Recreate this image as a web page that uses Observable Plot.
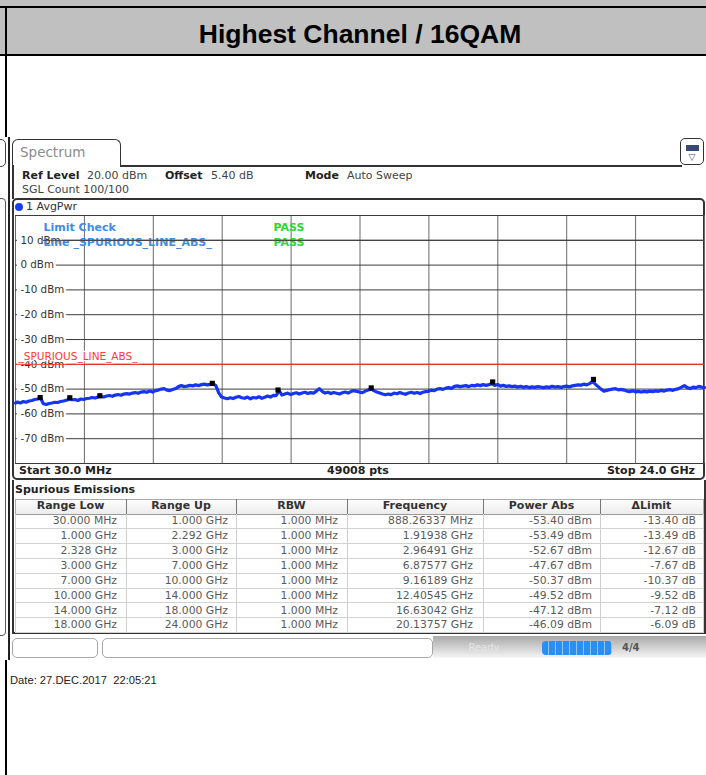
<!DOCTYPE html>
<html><head><meta charset="utf-8">
<script src="https://cdn.jsdelivr.net/npm/d3@7"></script>
<script src="https://cdn.jsdelivr.net/npm/@observablehq/plot@0.6"></script>
<style>
body{margin:0;background:#fff;}
#page{position:relative;width:706px;height:775px;overflow:hidden;background:#fff;font-family:"DejaVu Sans",sans-serif;}
</style></head><body><div id="page"></div>
<script>
// ---------------- data ----------------
const titleText = "Highest Channel / 16QAM";
const limitName = "_SPURIOUS_LINE_ABS_";
const limitDbm = -40;
const xGridGHz = [0.03, 2.427, 4.824, 7.221, 9.618, 12.015, 14.412, 16.809, 19.206, 21.603, 24.0];
const yGridDbm = [20, 10, 0, -10, -20, -30, -40, -50, -60, -70, -80];
const yTickLabels = [10, 0, -10, -20, -30, -40, -50, -60, -70];

const traceGHz = [0.03,
 0.1,0.2,0.3,0.4,0.5,0.6,0.7,0.8,0.9,1.0,
 1.1,1.2,1.3,1.4,1.5,1.6,1.7,1.8,1.9,2.0,
 2.1,2.2,2.3,2.4,2.5,2.6,2.7,2.8,2.9,3.0,
 3.1,3.2,3.3,3.4,3.5,3.6,3.7,3.8,3.9,4.0,
 4.1,4.2,4.3,4.4,4.5,4.6,4.7,4.8,4.9,5.0,
 5.1,5.2,5.3,5.4,5.5,5.6,5.7,5.8,5.9,6.0,
 6.1,6.2,6.3,6.4,6.5,6.6,6.7,6.8,6.9,7.0,
 7.1,7.2,7.3,7.4,7.5,7.6,7.7,7.8,7.9,8.0,
 8.1,8.2,8.3,8.4,8.5,8.6,8.7,8.8,8.9,9.0,
 9.1,9.2,9.3,9.4,9.5,9.6,9.7,9.8,9.9,10.0,
 10.1,10.2,10.3,10.4,10.5,10.6,10.7,10.8,10.9,11.0,
 11.1,11.2,11.3,11.4,11.5,11.6,11.7,11.8,11.9,12.0,
 12.1,12.2,12.3,12.4,12.5,12.6,12.7,12.8,12.9,13.0,
 13.1,13.2,13.3,13.4,13.5,13.6,13.7,13.8,13.9,14.0,
 14.1,14.2,14.3,14.4,14.5,14.6,14.7,14.8,14.9,15.0,
 15.1,15.2,15.3,15.4,15.5,15.6,15.7,15.8,15.9,16.0,
 16.1,16.2,16.3,16.4,16.5,16.6,16.7,16.8,16.9,17.0,
 17.1,17.2,17.3,17.4,17.5,17.6,17.7,17.8,17.9,18.0,
 18.1,18.2,18.3,18.4,18.5,18.6,18.7,18.8,18.9,19.0,
 19.1,19.2,19.3,19.4,19.5,19.6,19.7,19.8,19.9,20.0,
 20.1,20.2,20.3,20.4,20.5,20.6,20.7,20.8,20.9,21.0,
 21.1,21.2,21.3,21.4,21.5,21.6,21.7,21.8,21.9,22.0,
 22.1,22.2,22.3,22.4,22.5,22.6,22.7,22.8,22.9,23.0,
 23.1,23.2,23.3,23.4,23.5,23.6,23.7,23.8,23.9,24.0];

const traceDbm = [-55.6,
 -55.2,-55.6,-55.0,-55.3,-54.8,-54.6,-54.2,-54.0,-53.6,-55.9,
 -56.2,-55.8,-55.6,-55.3,-55.4,-55.0,-54.8,-54.5,-54.0,-54.3,
 -54.2,-54.6,-54.0,-54.2,-53.8,-53.7,-53.4,-53.6,-53.2,-53.0,
 -53.2,-52.8,-52.6,-52.9,-52.4,-52.2,-52.5,-52.0,-51.8,-52.0,
 -51.6,-51.4,-51.7,-51.2,-51.0,-51.3,-50.8,-51.2,-50.6,-50.4,
 -50.0,-49.8,-50.4,-50.6,-50.2,-49.8,-49.0,-48.6,-49.0,-48.8,
 -48.5,-48.7,-48.3,-48.6,-48.2,-48.0,-48.3,-48.1,-47.9,-48.6,
 -51.5,-53.2,-53.6,-53.9,-53.5,-53.8,-53.3,-53.0,-53.5,-53.7,
 -53.2,-53.9,-53.4,-53.6,-53.1,-53.7,-53.3,-52.8,-53.2,-52.5,
 -52.6,-50.6,-52.4,-52.0,-51.6,-52.2,-51.8,-51.5,-52.0,-51.6,
 -51.3,-51.8,-51.4,-51.6,-50.8,-49.8,-50.9,-51.6,-51.3,-51.8,
 -51.4,-51.7,-52.0,-51.5,-51.2,-51.6,-51.0,-50.6,-50.9,-51.2,
 -51.4,-50.8,-50.4,-50.0,-50.6,-51.2,-51.6,-52.0,-52.3,-52.0,
 -52.2,-51.6,-51.9,-51.4,-51.8,-52.1,-51.6,-51.3,-51.7,-51.4,
 -51.8,-51.3,-51.0,-50.9,-50.4,-50.6,-50.0,-49.8,-50.1,-49.6,
 -49.4,-49.7,-48.9,-48.7,-49.0,-48.8,-48.6,-49.0,-48.5,-48.7,
 -48.3,-48.6,-48.2,-48.5,-48.2,-47.8,-48.5,-48.1,-48.8,-48.5,
 -48.9,-48.7,-49.0,-48.8,-49.2,-48.9,-49.3,-49.0,-49.4,-49.1,
 -49.3,-49.0,-49.2,-49.4,-49.1,-49.3,-48.9,-49.2,-49.0,-49.3,
 -49.0,-48.8,-49.1,-48.7,-48.5,-48.3,-48.4,-48.0,-48.3,-47.8,
 -47.0,-48.0,-49.0,-50.0,-50.8,-50.5,-50.2,-50.0,-49.8,-50.3,
 -50.1,-50.4,-50.8,-51.0,-50.7,-51.1,-50.9,-51.2,-50.9,-51.1,
 -50.8,-51.0,-50.7,-50.9,-50.5,-50.8,-50.4,-50.2,-50.5,-50.1,
 -49.8,-49.2,-48.6,-49.4,-49.8,-49.2,-49.4,-48.9,-49.2,-49.4];

const tableHeaders = ["Range Low", "Range Up", "RBW", "Frequency", "Power Abs", "\u0394Limit"];
const rangeLowGHz = [0.03, 1.0, 2.328, 3.0, 7.0, 10.0, 14.0, 18.0];
const rangeUpGHz  = [1.0, 2.292, 3.0, 7.0, 10.0, 14.0, 18.0, 24.0];
const rbwMHz      = [1.0, 1.0, 1.0, 1.0, 1.0, 1.0, 1.0, 1.0];
const markerGHz   = [0.88826337, 1.91938, 2.96491, 6.87577, 9.16189, 12.40545, 16.63042, 20.13757];
const markerDbm   = [-53.40, -53.49, -52.67, -47.67, -50.37, -49.52, -47.12, -46.09];
const deltaLimitDb = [-13.40, -13.49, -12.67, -7.67, -10.37, -9.52, -7.12, -6.09];

// ---------------- helpers ----------------
const page = document.getElementById('page');
function box(css, text) {
  const d = document.createElement('div');
  d.style.cssText = 'position:absolute;' + css;
  if (text != null) d.textContent = text;
  page.appendChild(d);
  return d;
}
function label(x, yc, text, css, anchor) {
  const lh = 14;
  let s = `top:${yc - lh / 2}px;line-height:${lh}px;height:${lh}px;white-space:pre;`;
  if (anchor === 'end') s += `right:${706 - x}px;text-align:right;`;
  else if (anchor === 'middle') s += `left:${x - 150}px;width:300px;text-align:center;`;
  else s += `left:${x}px;`;
  return box(s + css, text);
}
const INST = 'font-family:"DejaVu Sans",sans-serif;font-size:11px;';

// ---------------- page header ----------------
box('left:0;top:0;width:706px;height:56px;background:#c0c0c0;');
box('left:0;top:6px;width:706px;height:2px;background:#000;');
box('left:0;top:54px;width:706px;height:2px;background:#000;');
box('left:14px;top:19px;width:692px;height:28px;line-height:28px;text-align:center;font:bold 26.5px "Liberation Sans",Arial,sans-serif;color:#000;', titleText);
box('left:5px;top:6px;width:2px;height:769px;background:#000;');

// ---------------- left strip (neighbouring window edges) ----------------
box('left:0;top:137px;width:12px;height:523px;background:#fff;');
box('left:-6px;top:139px;width:10px;height:26px;border:1.5px solid #444;border-radius:5px;');
box('left:-6px;top:198px;width:10px;height:436px;border:1.5px solid #555;border-radius:4px;');
box('left:8px;top:137px;width:2px;height:523px;background:#222;');

// ---------------- spectrum tab & info ----------------
box('left:12px;top:139px;width:107px;height:27px;border:1.5px solid #333;border-bottom:none;border-radius:6px 6px 0 0;background:#fff;');
label(20, 152, 'Spectrum', 'font-family:"DejaVu Sans",sans-serif;font-size:13.5px;color:#8c8c8c;');
box('left:121px;top:165px;width:561px;height:1.5px;background:#333;');
box('left:680px;top:138px;width:22px;height:25px;border:1.5px solid #333;border-radius:5px;background:#fff;');
box('left:686px;top:145px;width:11px;height:4px;background:#3a4a78;border:1px solid #3a4a78;');
label(692, 157, '\u25BD', 'font-family:"DejaVu Sans",sans-serif;font-size:9px;color:#3a4a78;', 'middle');
box('left:12px;top:165px;width:1.5px;height:34px;background:#333;');

label(22, 176, 'Ref Level', INST + 'font-weight:bold;color:#222;');
label(87, 176, '20.00 dBm', INST + 'color:#444;');
label(165, 176, 'Offset', INST + 'font-weight:bold;color:#222;');
label(211, 176, '5.40 dB', INST + 'color:#444;');
label(305, 176, 'Mode', INST + 'font-weight:bold;color:#222;');
label(347, 176, 'Auto Sweep', INST + 'color:#444;');
label(22, 190, 'SGL Count 100/100', INST + 'color:#444;');

// diagram box
box('left:12px;top:198px;width:689px;height:278px;border:2px solid #333;border-radius:5px;');
box('left:15px;top:203px;width:8px;height:8px;border-radius:50%;background:#1a3cff;');
label(26, 207, '1 AvgPwr', INST + 'color:#333;');

// ---------------- Plot: spectrum diagram ----------------
const trace = traceGHz.map((f, i) => ({f, p: traceDbm[i]}));
const markers = markerGHz.map((f, i) => ({f, p: markerDbm[i]}));
const lblFont = {fontFamily: "DejaVu Sans", fontSize: 10.3};
const chart = Plot.plot({
  width: 706, height: 270,
  marginLeft: 15, marginRight: 2, marginTop: 15, marginBottom: 7,
  x: {domain: [0.03, 24], axis: null},
  y: {domain: [-80, 20], axis: null},
  style: {background: "transparent", fontFamily: "DejaVu Sans", fontSize: "11px", overflow: "visible"},
  marks: [
    Plot.ruleX(xGridGHz, {x: d => d, stroke: "#6a6a6a", strokeWidth: 1}),
    Plot.ruleY(yGridDbm, {y: d => d, stroke: "#3c3c3c", strokeWidth: 1}),
    // white gap between the frame and the tick labels
    Plot.ruleX([0.03], {x: d => d, dx: 3.5, y1: 15, y2: -75, stroke: "white", strokeWidth: 4}),
    // tick labels with white knock-out
    Plot.text(yTickLabels, {y: d => d, frameAnchor: "left", dx: 5, textAnchor: "start", text: d => `${d} dBm`, fill: "white", stroke: "white", strokeWidth: 5, ...lblFont}),
    Plot.text(yTickLabels, {y: d => d, frameAnchor: "left", dx: 5, textAnchor: "start", text: d => `${d} dBm`, fill: "#333", ...lblFont}),
    // limit line label and line
    Plot.text([limitName], {y: () => limitDbm, frameAnchor: "left", dx: 3, dy: -7.5, textAnchor: "start", text: d => d, fill: "white", stroke: "white", strokeWidth: 2.5, fontSize: 10.5}),
    Plot.text([limitName], {y: () => limitDbm, frameAnchor: "left", dx: 3, dy: -7.5, textAnchor: "start", text: d => d, fill: "#ff3838", fontSize: 10.5}),
    Plot.ruleY([limitDbm], {y: d => d, stroke: "#ff2a2a", strokeWidth: 1}),
    // limit check annotations
    Plot.text(["Limit Check"], {frameAnchor: "top-left", dx: 28, dy: 8, textAnchor: "start", text: d => d, fill: "#3d8de6", fontWeight: "bold", fontSize: 11}),
    Plot.text(["Line " + limitName], {frameAnchor: "top-left", dx: 28, dy: 23, textAnchor: "start", text: d => d, fill: "#3d8de6", fontWeight: "bold", fontSize: 11}),
    Plot.text(["PASS"], {frameAnchor: "top-left", dx: 258, dy: 8, textAnchor: "start", text: d => d, fill: "#2fd62f", fontWeight: "bold", fontSize: 11}),
    Plot.text(["PASS"], {frameAnchor: "top-left", dx: 258, dy: 23, textAnchor: "start", text: d => d, fill: "#2fd62f", fontWeight: "bold", fontSize: 11}),
    Plot.ruleY([10], {y: d => d, x1: 1.0, x2: 24, stroke: "#3c3c3c", strokeWidth: 1}),
    // trace and markers
    Plot.line(trace, {x: "f", y: "p", stroke: "#1535f2", strokeWidth: 3.2, strokeLinejoin: "round"}),
    Plot.dot(markers, {x: "f", y: "p", symbol: "square", r: 2.9, fill: "#000"})
  ]
});
chart.style.position = "absolute";
chart.style.left = "0px";
chart.style.top = "200px";
page.appendChild(chart);

label(19, 471, 'Start 30.0 MHz', INST + 'font-weight:bold;color:#222;');
label(358, 471, '49008 pts', INST + 'font-weight:bold;color:#222;', 'middle');
label(695, 471, 'Stop 24.0 GHz', INST + 'font-weight:bold;color:#222;', 'end');

// ---------------- table ----------------
box('left:12px;top:480px;width:690px;height:152px;border:2px solid #333;border-top:none;');
label(15, 490, 'Spurious Emissions', INST + 'font-weight:bold;color:#222;');
const cols = [15, 126, 236, 347, 483, 600, 703];
const padR = [9, 8, 9, 10, 8, 7];
box(`left:15px;top:499px;width:688px;height:14px;background:linear-gradient(#fdfdfd,#ececec);border-top:1px solid #aaa;border-bottom:1px solid #999;`);
tableHeaders.forEach((h, c) => {
  const xm = (cols[c] + cols[c + 1]) / 2;
  label(xm, 506, h, INST + 'font-weight:bold;color:#333;', 'middle');
});
cols.forEach((x, c) => box(`left:${x}px;top:499px;width:1px;height:15px;background:${c === 0 || c === cols.length - 1 ? '#aaa' : '#777'};`));
const rowH = 14.9, row0 = 514;
const fmtRange = v => v < 1 ? (v * 1000).toFixed(3) + ' MHz' : v.toFixed(3) + ' GHz';
const fmtFreq = v => v < 1 ? (v * 1000).toFixed(5) + ' MHz' : v.toFixed(5) + ' GHz';
for (let i = 0; i < rangeLowGHz.length; i++) {
  const top = row0 + i * rowH;
  box(`left:15px;top:${top + rowH - 1}px;width:688px;height:1px;background:#d2d2d2;`);
  const cells = [fmtRange(rangeLowGHz[i]), fmtRange(rangeUpGHz[i]), rbwMHz[i].toFixed(3) + ' MHz',
                 fmtFreq(markerGHz[i]), markerDbm[i].toFixed(2) + ' dBm', deltaLimitDb[i].toFixed(2) + ' dB'];
  cells.forEach((t, c) => label(cols[c + 1] - padR[c], top + rowH / 2 - 0.3, t, 'font-family:"DejaVu Sans",sans-serif;font-size:10.8px;color:#5a5a5a;', 'end'));
}
cols.forEach(x => box(`left:${x}px;top:514px;width:1px;height:${8 * rowH}px;background:#cfcfcf;`));

// ---------------- status bar ----------------
box('left:433px;top:636px;width:273px;height:22px;background:linear-gradient(#a9a9a9,#f6f6f6);');
box('left:12px;top:638px;width:84px;height:18px;border:1px solid #a8a8a8;border-radius:5px;background:#fff;');
box('left:102px;top:638px;width:329px;height:18px;border:1px solid #a8a8a8;border-radius:5px;background:#fff;');
label(484, 648, 'Ready', 'font-family:"DejaVu Sans",sans-serif;font-size:10px;color:#e4e4e4;', 'middle');
box('left:542px;top:641px;width:70px;height:14px;border-radius:4px;background:repeating-linear-gradient(90deg,#2b8ef2 0 6px,#8cc6ff 6px 7px);');
label(622, 648, '4/4', 'font-family:"DejaVu Sans",sans-serif;font-size:10px;font-weight:bold;color:#555;');

// ---------------- date ----------------
label(10, 680, 'Date: 27.DEC.2017  22:05:21', 'font-family:"Liberation Sans",Arial,sans-serif;font-size:11.2px;color:#222;');
</script>
</body></html>
